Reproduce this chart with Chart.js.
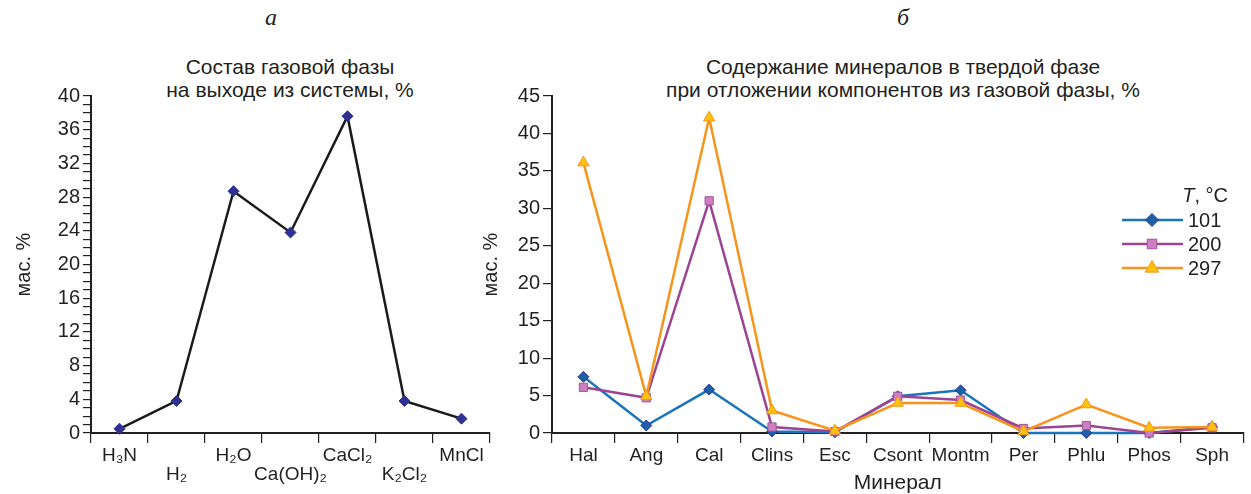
<!DOCTYPE html>
<html>
<head>
<meta charset="utf-8">
<title>Газовая и твердая фазы</title>
<script src="https://cdn.jsdelivr.net/npm/chart.js"></script>
<style>
  body { margin: 0; background: #fff; width: 1251px; height: 494px; position: relative; overflow: hidden;
         font-family: 'Liberation Sans', Arial, sans-serif; color: #231f20; }
  .lbl { position: absolute; white-space: nowrap; transform: translate(-50%, -50%); }
  .letter { font-family: 'Liberation Serif', 'Times New Roman', serif; font-style: italic; font-size: 24px; }
  .head { font-size: 21px; line-height: 23px; text-align: center; }
  canvas { position: absolute; top: 0; }
</style>
</head>
<body>
<div class="lbl letter" style="left:271px; top:17px">а</div>
<div class="lbl letter" style="left:903px; top:17px">б</div>
<div class="lbl head" style="left:290px; top:78px">Состав газовой фазы<br>на выходе из системы, %</div>
<div class="lbl head" style="left:903px; top:78px">Содержание минералов в твердой фазе<br>при отложении компонентов из газовой фазы, %</div>
<canvas id="gas" width="500" height="494" style="left:0"></canvas>
<canvas id="min" width="783" height="494" style="left:468px"></canvas>
<script>
// a: gas phase
const gasLabels = [['H₃N'], ['', 'H₂'], ['H₂O'], ['', 'Ca(OH)₂'], ['CaCl₂'], ['', 'K₂Cl₂'], ['MnCl']]
const gasValues = [0.5, 3.8, 28.7, 23.8, 37.6, 3.8, 1.7]

// б: minerals in the solid phase
const minerals = ['Hal', 'Ang', 'Cal', 'Clins', 'Esc', 'Csont', 'Montm', 'Per', 'Phlu', 'Phos', 'Sph']
const temps = ['101', '200', '297']
const t101 = [7.5, 1.0, 5.8, 0.2, 0.1, 4.9, 5.7, 0.0, 0.0, 0.0, 0.8]
const t200 = [6.1, 4.7, 31.0, 0.8, 0.2, 4.9, 4.4, 0.6, 1.0, 0.0, 0.7]
const t297 = [36.1, 4.9, 42.1, 3.0, 0.3, 4.0, 4.0, 0.2, 3.8, 0.7, 0.8]

const ink = '#231f20'
const family = "'Liberation Sans', Arial, sans-serif"
const xFont = { family: family, size: 19, lineHeight: 1.0 }
const yFont = { family: family, size: 20, lineHeight: 1.0 }

Chart.defaults.color = ink
Chart.defaults.font.family = family

function xAxis(title) {
  return {
    offset: true,
    grid: { offset: true, drawOnChartArea: false, drawTicks: true, tickLength: 10, color: ink, lineWidth: 1.2 },
    border: { display: true, color: ink, width: 2 },
    ticks: { autoSkip: false, maxRotation: 0, padding: 3, font: xFont, color: ink },
    title: title ? { display: true, text: title, font: { size: 21, lineHeight: 1.0 }, padding: { top: 0, bottom: 0 }, color: ink } : { display: false },
    afterFit: s => { s.height = 61 }
  }
}

function yAxis(max, step, every, width, titlePad, tick) {
  return {
    min: 0,
    max: max,
    grid: { drawOnChartArea: false, drawTicks: true, tickLength: tick, color: ink, lineWidth: 1.2 },
    border: { display: true, color: ink, width: 2 },
    ticks: {
      stepSize: step,
      maxTicksLimit: 100,
      autoSkip: false,
      padding: 3,
      font: yFont,
      color: ink,
      callback: v => (v % every === 0 ? v : '')
    },
    title: { display: true, text: 'мас. %', font: { size: 20, lineHeight: 1.2 }, padding: { top: titlePad, bottom: 0 }, color: ink },
    afterFit: s => { s.width = width }
  }
}

new Chart(document.getElementById('gas'), {
  type: 'line',
  data: {
    labels: gasLabels,
    datasets: [{
      data: gasValues,
      borderColor: '#1a1a1a',
      borderWidth: 2.5,
      tension: 0,
      pointStyle: 'rectRot',
      pointRadius: 5.5,
      pointBackgroundColor: '#2e3192',
      pointBorderColor: '#2e3192',
      pointBorderWidth: 1,
      clip: false
    }]
  },
  options: {
    responsive: false,
    animation: false,
    layout: { padding: { top: 96, right: 10, left: 0, bottom: 0 } },
    plugins: { legend: { display: false }, tooltip: { enabled: false } },
    scales: {
      x: xAxis(null),
      y: yAxis(40, 1, 4, 91, 12, 8)
    }
  }
})

// legend drawn inside the plot, like the original figure
const insideLegend = {
  id: 'insideLegend',
  afterDraw(chart) {
    const ctx = chart.ctx
    const x0 = 654, x1 = 715, xm = 684, xt = 720
    const rows = [220, 244, 268]
    ctx.save()
    ctx.fillStyle = ink
    ctx.textBaseline = 'middle'
    ctx.textAlign = 'left'
    ctx.font = "italic 20px " + family
    const tw = ctx.measureText('T').width
    ctx.font = "20px " + family
    const rest = ', °C'
    const rw = ctx.measureText(rest).width
    const tx = 760 - tw - rw
    ctx.font = "italic 20px " + family
    ctx.fillText('T', tx, 196)
    ctx.font = "20px " + family
    ctx.fillText(rest, tx + tw, 196)
    chart.data.datasets.forEach((ds, i) => {
      const y = rows[i]
      ctx.strokeStyle = ds.borderColor
      ctx.lineWidth = ds.borderWidth
      ctx.beginPath()
      ctx.moveTo(x0, y)
      ctx.lineTo(x1, y)
      ctx.stroke()
      const r = ds.pointRadius + 1
      ctx.fillStyle = ds.pointBackgroundColor
      ctx.strokeStyle = ds.pointBorderColor
      ctx.lineWidth = 1
      ctx.beginPath()
      if (ds.pointStyle === 'rectRot') {
        ctx.moveTo(xm - r, y); ctx.lineTo(xm, y - r); ctx.lineTo(xm + r, y); ctx.lineTo(xm, y + r)
      } else if (ds.pointStyle === 'rect') {
        const h = r * Math.SQRT1_2
        ctx.rect(xm - h, y - h, 2 * h, 2 * h)
      } else {
        ctx.moveTo(xm, y - r); ctx.lineTo(xm + r * 0.9, y + r * 0.55); ctx.lineTo(xm - r * 0.9, y + r * 0.55)
      }
      ctx.closePath()
      ctx.fill()
      ctx.stroke()
      ctx.fillStyle = ink
      ctx.fillText(ds.label, xt, y + 1)
    })
    ctx.restore()
  }
}

new Chart(document.getElementById('min'), {
  type: 'line',
  data: {
    labels: minerals,
    datasets: [
      {
        label: temps[0], data: t101, order: 3,
        borderColor: '#1b75bb', borderWidth: 2.5, tension: 0,
        pointStyle: 'rectRot', pointRadius: 5.5,
        pointBackgroundColor: '#1f5ea8', pointBorderColor: '#2b3990', pointBorderWidth: 1, clip: false
      },
      {
        label: temps[1], data: t200, order: 2,
        borderColor: '#9b4493', borderWidth: 2.5, tension: 0,
        pointStyle: 'rect', pointRadius: 5.8,
        pointBackgroundColor: '#cc7fc0', pointBorderColor: '#a0559b', pointBorderWidth: 1, clip: false
      },
      {
        label: temps[2], data: t297, order: 1,
        borderColor: '#f7941d', borderWidth: 2.5, tension: 0,
        pointStyle: 'triangle', pointRadius: 6.5,
        pointBackgroundColor: '#ffc20e', pointBorderColor: '#f7941d', pointBorderWidth: 1, clip: false
      }
    ]
  },
  options: {
    responsive: false,
    animation: false,
    layout: { padding: { top: 96, right: 0, left: 0, bottom: 0 } },
    plugins: { legend: { display: false }, tooltip: { enabled: false } },
    scales: {
      x: xAxis('Минерал'),
      y: yAxis(45, 5, 5, 84, 11, 9)
    }
  },
  plugins: [insideLegend]
})
</script>
</body>
</html>
